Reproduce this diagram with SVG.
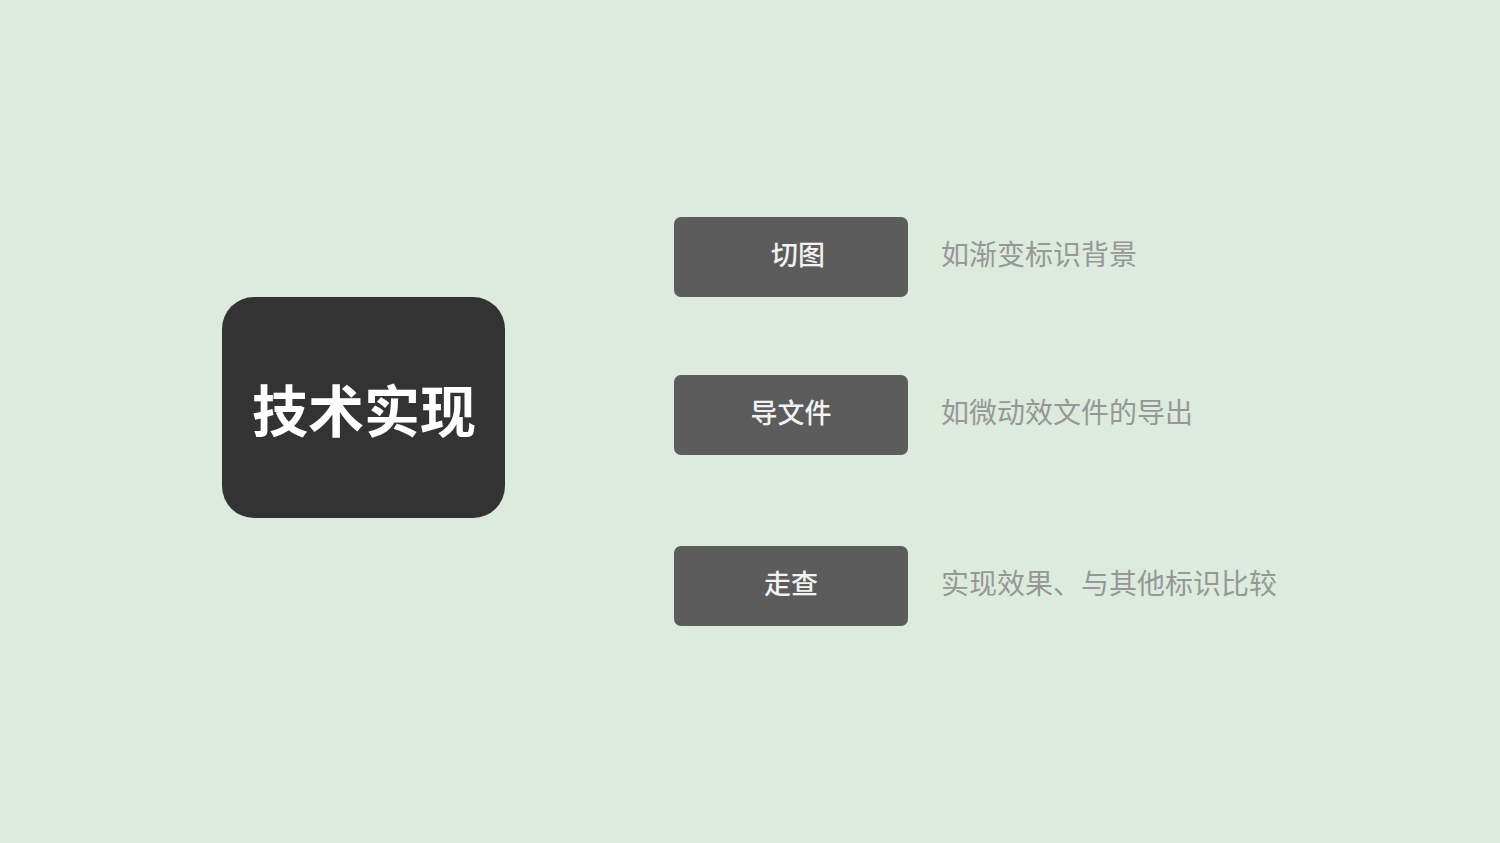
<svg xmlns="http://www.w3.org/2000/svg" width="1500" height="843" viewBox="0 0 1500 843">
<style>
.bg{fill:#dcebdd}
.main{fill:#333333}
.box{fill:#5c5c5c}
.t{font-family:"Noto Sans CJK SC","Noto Sans",sans-serif}
.mt{font-size:56px;font-weight:bold;fill:#ffffff;text-anchor:middle}
.bt{font-size:27px;font-weight:500;fill:#f2f2f2;text-anchor:middle}
.dt{font-size:28px;fill:#979797}
</style>
<rect class="bg" x="0" y="0" width="1500" height="843"/>
<g id="connectors"></g>
<g id="main">
<rect class="main" x="222" y="297" width="283" height="221" rx="32"/>
<text class="t mt" x="364" y="432">技术实现</text>
</g>
<g id="node1">
<rect class="box" x="674" y="217" width="234" height="80" rx="7"/>
<text class="t bt" x="798" y="265">切图</text>
</g>
<g id="desc1"><text class="t dt" x="941" y="265">如渐变标识背景</text></g>
<g id="node2">
<rect class="box" x="674" y="375" width="234" height="80" rx="7"/>
<text class="t bt" x="791" y="423">导文件</text>
</g>
<g id="desc2"><text class="t dt" x="941" y="423">如微动效文件的导出</text></g>
<g id="node3">
<rect class="box" x="674" y="546" width="234" height="80" rx="7"/>
<text class="t bt" x="791" y="594">走查</text>
</g>
<g id="desc3"><text class="t dt" x="941" y="594">实现效果、与其他标识比较</text></g>
</svg>
